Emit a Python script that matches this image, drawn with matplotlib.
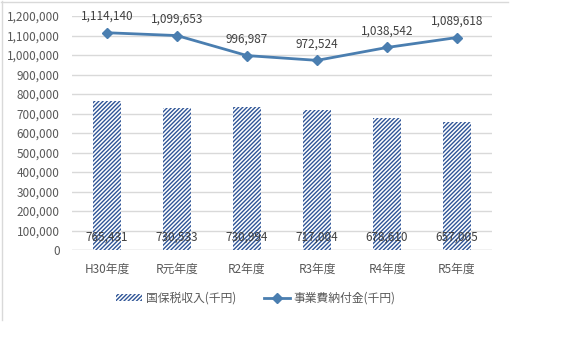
import matplotlib
matplotlib.use("Agg")
import matplotlib.pyplot as plt
from matplotlib.lines import Line2D
import numpy as np

plt.rcParams['font.family'] = ['Noto Sans CJK JP', 'DejaVu Sans']
plt.rcParams['hatch.linewidth'] = 1.0

categories = ["H30年度", "R元年度", "R2年度", "R3年度", "R4年度", "R5年度"]
tax_revenue = [765431, 730533, 730994, 717004, 678610, 657005]
contribution = [1114140, 1099653, 996987, 972524, 1038542, 1089618]
bar_label = "国保税収入(千円)"
line_label = "事業費納付金(千円)"
yticks = list(range(0, 1200001, 100000))

W, H = 574, 351
fig = plt.figure(figsize=(W / 100, H / 100), dpi=100)
ax = fig.add_axes([72 / W, 1 - 250 / H, 420 / W, 234 / H])

x = np.arange(len(categories))
tick_color = "#595959"
bar_color = "#2f5597"
line_color = "#4a7eb0"
fs = 8.5

ax.bar(x, tax_revenue, width=0.4, color="white", edgecolor=bar_color,
       hatch="////////", linewidth=0, zorder=2)
for xi, v in zip(x, tax_revenue):
    ax.text(xi, 67000, f"{v:,}", ha="center", va="center", fontsize=fs,
            color="#404040", zorder=4)

ax.plot(x, contribution, color=line_color, lw=2, marker="D", markersize=5.5,
        zorder=3)
for xi, v in zip(x, contribution):
    ax.text(xi, v + 85000, f"{v:,}", ha="center", va="center", fontsize=fs,
            color="#404040", zorder=4)

ax.set_xlim(-0.5, len(categories) - 0.5)
ax.set_ylim(0, 1200000)
ax.set_yticks(yticks)
ax.set_yticklabels([f"{t:,}" for t in yticks], fontsize=fs, color=tick_color)
ax.set_xticks(x)
ax.set_xticklabels(categories, fontsize=fs, color=tick_color)
ax.tick_params(axis="both", length=0)
ax.tick_params(axis="x", pad=9)
ax.tick_params(axis="y", pad=9)
ax.grid(axis="y", color="#d9d9d9", lw=1, zorder=0)
ax.set_axisbelow(True)
for s in ax.spines.values():
    s.set_visible(False)
ax.axhline(0, color="#d9d9d9", lw=1, zorder=1)

handles = [
    plt.Rectangle((0, 0), 1, 1, facecolor="white", edgecolor=bar_color,
                  hatch="////////", linewidth=0),
    Line2D([0], [0], color=line_color, lw=2, marker="D", markersize=5.5),
]
leg = fig.legend(handles, [bar_label, line_label], loc="center",
                 bbox_to_anchor=(256 / W, 1 - 298 / H), ncol=2, frameon=False,
                 fontsize=fs, handlelength=2.2, handleheight=0.6,
                 handletextpad=0.3, columnspacing=2.4)
for t in leg.get_texts():
    t.set_color(tick_color)

# chart area border (top and left visible)
fig.add_artist(Line2D([1 / W, 508 / W], [1 - 1.5 / H, 1 - 1.5 / H],
                      color="#d9d9d9", lw=1, transform=fig.transFigure))
fig.add_artist(Line2D([1.5 / W, 1.5 / W], [1 - 1 / H, 1 - 320 / H],
                      color="#d9d9d9", lw=1, transform=fig.transFigure))

fig.savefig("out.png", dpi=100)
